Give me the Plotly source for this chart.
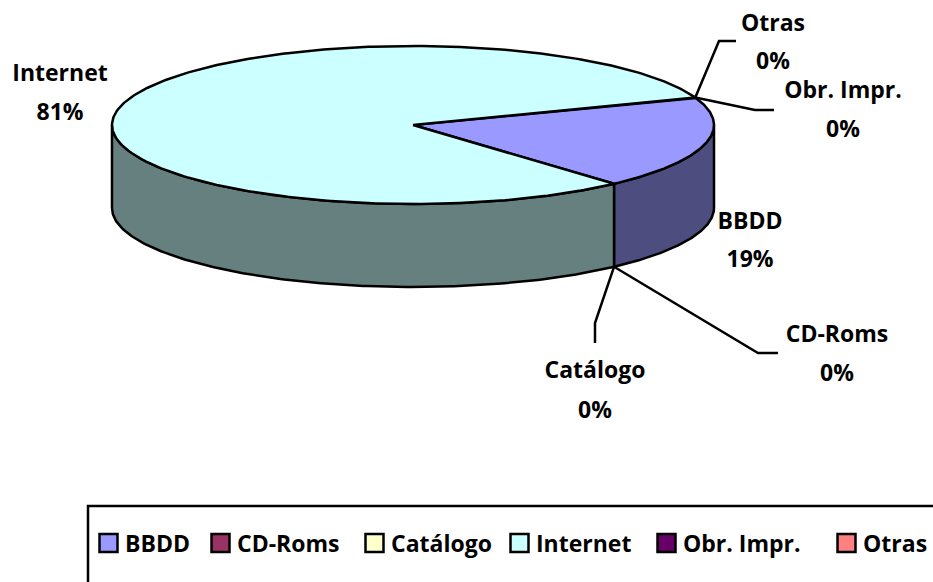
import numpy as np
import plotly.graph_objects as go

# ---- data ----
categories = ["BBDD", "CD-Roms", "Catálogo", "Internet", "Obr. Impr.", "Otras"]
values = [19, 0, 0, 81, 0, 0]
top_colors = ["#9999FF", "#993366", "#FFFFCC", "#CCFFFF", "#660066", "#FF8080"]
side_colors = ["#4D4D80", "#4D1A33", "#808066", "#668080", "#330033", "#804040"]

# ---- layout of the drawing (pixels) ----
CX, CY, RX, RY, DEPTH = 413, 125, 301, 79, 83
START = 20.3
FONT = "Open Sans"
FS = 23
label_pos = {"BBDD": (750, 223, 261), "CD-Roms": (837, 336, 375), "Catálogo": (595, 372, 412),
             "Internet": (60, 75, 114), "Obr. Impr.": (843, 92, 131), "Otras": (773, 25, 63)}
elbows = {"CD-Roms": [(758, 353), (778, 353)], "Catálogo": [(595, 323), (595, 343)],
          "Obr. Impr.": [(755, 110), (774, 110)], "Otras": [(719, 41), (736, 41)]}
legend_x = [99, 211, 365, 510, 657, 837]
LEG_Y = 543
LEG_TEXT_Y = 546


def ell(deg, dz=0):
    a = np.radians(deg)
    return CX + RX * np.cos(a), CY - RY * np.sin(a) + dz


fig = go.Figure()
total = sum(values)
angs = START - 360 * np.cumsum([0] + values) / total
LINE = dict(color="black", width=2.5)

# side walls (only the front half, angle between 0 and -180)
for i, c in enumerate(categories):
    a0, a1 = max(angs[i], -180), min(max(angs[i + 1], -180), 0)
    a0 = min(a0, 0)
    if a0 - a1 <= 0:
        continue
    t = np.linspace(a0, a1, 160)
    xt, yt = ell(t)
    xb, yb = ell(t[::-1], DEPTH)
    fig.add_trace(go.Scatter(x=np.r_[xt, xb, xt[0]], y=np.r_[yt, yb, yt[0]], mode="lines",
                             fill="toself", fillcolor=side_colors[i], line=LINE,
                             hoverinfo="skip", showlegend=False))

# top wedges
for i, c in enumerate(categories):
    if values[i] == 0:
        continue
    t = np.linspace(angs[i], angs[i + 1], 400)
    xt, yt = ell(t)
    fig.add_trace(go.Scatter(x=np.r_[CX, xt, CX], y=np.r_[CY, yt, CY], mode="lines",
                             fill="toself", fillcolor=top_colors[i], line=LINE,
                             hoverinfo="skip", showlegend=False, name=c))

# leader lines, anchored on the rim at the slice's own angle
for i, c in enumerate(categories):
    if c not in elbows:
        continue
    front = np.sin(np.radians(angs[i])) < 0
    ax, ay = ell(angs[i], DEPTH if front else 0)
    xs = [ax] + [p[0] for p in elbows[c]]
    ys = [ay] + [p[1] for p in elbows[c]]
    fig.add_trace(go.Scatter(x=xs, y=ys, mode="lines", line=LINE, hoverinfo="skip", showlegend=False))

# data labels
for c, v in zip(categories, values):
    x, y1, y2 = label_pos[c]
    fig.add_trace(go.Scatter(x=[x, x], y=[y1, y2], mode="text", text=[f"<b>{c}</b>", f"<b>{v}%</b>"],
                             textposition="middle center", textfont=dict(family=FONT, size=FS, color="black"),
                             hoverinfo="skip", showlegend=False))

# legend
for lx, c, col in zip(legend_x, categories, top_colors):
    fig.add_trace(go.Scatter(x=[lx + 9.5], y=[LEG_Y], mode="markers",
                             marker=dict(symbol="square", size=18, color=col, line=dict(color="black", width=2.5)),
                             hoverinfo="skip", showlegend=False))
    fig.add_trace(go.Scatter(x=[lx + 26], y=[LEG_TEXT_Y], mode="text", text=[f"<b>{c}</b>"],
                             textposition="middle right",
                             textfont=dict(family=FONT, size=FS, color="black"),
                             hoverinfo="skip", showlegend=False))

fig.update_layout(
    width=933, height=582, margin=dict(l=0, r=0, t=0, b=0),
    paper_bgcolor="white", plot_bgcolor="white", showlegend=False,
    xaxis=dict(range=[0, 933], visible=False, fixedrange=True),
    yaxis=dict(range=[582, 0], visible=False, fixedrange=True),
    shapes=[dict(type="rect", xref="x", yref="y", x0=88, y0=506, x1=980, y1=640,
                 line=dict(color="black", width=2.5), layer="below")],
)
fig.write_html("out.html", config={"displayModeBar": False},
               post_script="document.body.style.margin='0';document.body.style.overflow='hidden';")
